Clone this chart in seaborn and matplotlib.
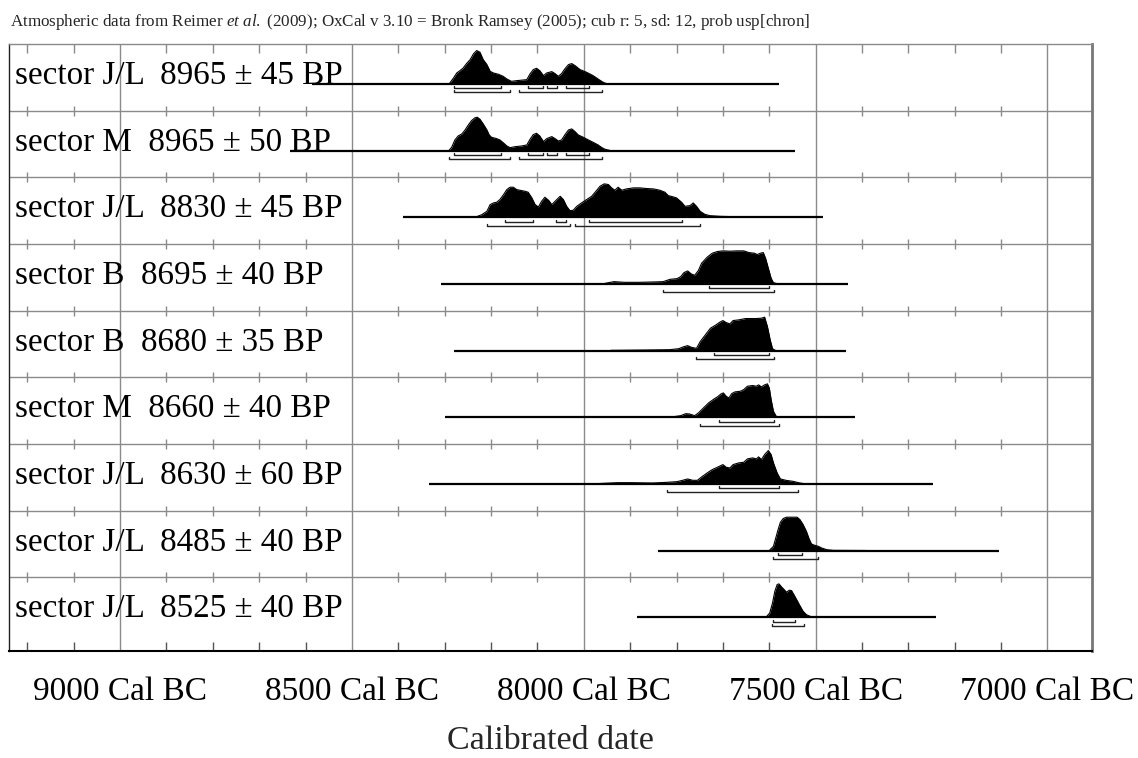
import numpy as np
import matplotlib
matplotlib.use("Agg")
import matplotlib.pyplot as plt
import seaborn as sns

# ---------------- data ----------------
labels = [
    "sector J/L  8965 ± 45 BP",
    "sector M  8965 ± 50 BP",
    "sector J/L  8830 ± 45 BP",
    "sector B  8695 ± 40 BP",
    "sector B  8680 ± 35 BP",
    "sector M  8660 ± 40 BP",
    "sector J/L  8630 ± 60 BP",
    "sector J/L  8485 ± 40 BP",
    "sector J/L  8525 ± 40 BP",
]
line_start = [8587, 8633, 8389, 8309, 8280, 8299, 8334, 7840, 7885]
line_end = [7579, 7545, 7485, 7430, 7435, 7415, 7246, 7105, 7241]

row1_year = [8289, 8281, 8274, 8267, 8260, 8253, 8245, 8238, 8231, 8224, 8217, 8209, 8202, 8195, 8184,
             8174, 8166, 8156, 8145, 8123, 8116, 8109, 8102, 8095, 8087, 8080, 8069, 8062, 8055, 8048,
             8041, 8033, 8026, 8019, 8008, 7994, 7980, 7965, 7958, 7951]
row1_prob = [0.03, 0.18, 0.33, 0.40, 0.48, 0.61, 0.73, 0.90, 1.00, 0.95, 0.73, 0.58, 0.38, 0.33, 0.29,
             0.23, 0.15, 0.08, 0.10, 0.13, 0.30, 0.43, 0.47, 0.40, 0.25, 0.33, 0.37, 0.31, 0.23, 0.31,
             0.45, 0.58, 0.61, 0.55, 0.43, 0.35, 0.25, 0.11, 0.05, 0.01]

row2_year = [8290, 8285, 8278, 8271, 8263, 8256, 8249, 8242, 8235, 8230, 8224, 8217, 8209, 8204, 8199,
             8188, 8181, 8174, 8166, 8159, 8148, 8134, 8123, 8116, 8109, 8102, 8095, 8087, 8080, 8069,
             8062, 8055, 8048, 8041, 8033, 8026, 8019, 8012, 8001, 7990, 7980, 7969, 7962, 7954, 7944]
row2_prob = [0.02, 0.10, 0.32, 0.44, 0.50, 0.62, 0.77, 0.90, 0.98, 1.00, 0.94, 0.80, 0.62, 0.47, 0.40,
             0.36, 0.32, 0.24, 0.14, 0.09, 0.12, 0.14, 0.17, 0.34, 0.48, 0.52, 0.44, 0.27, 0.36, 0.42,
             0.36, 0.29, 0.32, 0.47, 0.62, 0.65, 0.57, 0.47, 0.40, 0.32, 0.25, 0.17, 0.10, 0.04, 0.01]

row3_year = [8231, 8220, 8209, 8202, 8195, 8188, 8181, 8173, 8166, 8159, 8152, 8145, 8138, 8127, 8120,
             8112, 8105, 8098, 8091, 8084, 8076, 8069, 8062, 8051, 8044, 8037, 8030, 8023, 8015, 8005,
             7994, 7983, 7972, 7965, 7956, 7947, 7940, 7933, 7926, 7918, 7908, 7893, 7879, 7864, 7850,
             7836, 7825, 7818, 7807, 7800, 7789, 7782, 7771, 7764, 7757, 7749, 7739, 7728, 7706, 7678,
             7642]
row3_prob = [0.02, 0.08, 0.18, 0.38, 0.43, 0.45, 0.53, 0.68, 0.83, 0.90, 0.90, 0.83, 0.81, 0.78, 0.75,
             0.58, 0.38, 0.31, 0.48, 0.60, 0.51, 0.38, 0.48, 0.63, 0.53, 0.33, 0.20, 0.21, 0.33, 0.43,
             0.53, 0.63, 0.81, 0.93, 1.00, 0.98, 0.88, 0.81, 0.90, 0.81, 0.85, 0.88, 0.88, 0.86, 0.85,
             0.81, 0.75, 0.65, 0.61, 0.58, 0.45, 0.33, 0.35, 0.43, 0.33, 0.18, 0.09, 0.05, 0.03, 0.02,
             0.01]

row4_year = [7954, 7935, 7912, 7882, 7852, 7829, 7814, 7799, 7791, 7784, 7776, 7768, 7761, 7753, 7746,
             7734, 7723, 7712, 7700, 7685, 7670, 7655, 7644, 7632, 7626, 7619, 7613, 7608, 7602, 7596,
             7591, 7583]
row4_prob = [0.02, 0.07, 0.05, 0.05, 0.06, 0.07, 0.14, 0.16, 0.22, 0.34, 0.39, 0.30, 0.26, 0.40, 0.62,
             0.80, 0.92, 0.97, 0.99, 0.98, 0.99, 0.99, 0.94, 0.92, 0.88, 0.92, 0.94, 0.77, 0.47, 0.17,
             0.04, 0.01]

row5_year = [7942, 7867, 7814, 7795, 7784, 7776, 7768, 7757, 7749, 7738, 7727, 7715, 7708, 7700, 7693,
             7685, 7678, 7666, 7651, 7640, 7628, 7617, 7610, 7604, 7598, 7593, 7587]
row5_prob = [0.01, 0.02, 0.03, 0.06, 0.12, 0.15, 0.10, 0.07, 0.27, 0.47, 0.67, 0.77, 0.84, 0.90, 0.84,
             0.80, 0.90, 0.92, 0.96, 0.96, 0.96, 0.97, 1.00, 0.72, 0.32, 0.06, 0.01]

row6_year = [7867, 7806, 7791, 7780, 7772, 7761, 7753, 7742, 7731, 7719, 7712, 7704, 7699, 7693, 7687,
             7681, 7674, 7662, 7655, 7647, 7636, 7628, 7623, 7617, 7610, 7604, 7600, 7596, 7591, 7585,
             7579]
row6_prob = [0.01, 0.02, 0.05, 0.11, 0.10, 0.05, 0.13, 0.28, 0.43, 0.55, 0.61, 0.70, 0.73, 0.63, 0.58,
             0.71, 0.76, 0.78, 0.83, 0.93, 0.95, 0.93, 0.97, 0.91, 0.97, 1.00, 0.88, 0.53, 0.18, 0.03,
             0.00]

row7_year = [7973, 7927, 7897, 7852, 7821, 7799, 7787, 7776, 7765, 7755, 7746, 7734, 7723, 7712, 7700,
             7693, 7685, 7678, 7666, 7655, 7647, 7636, 7628, 7623, 7617, 7610, 7602, 7596, 7591, 7583,
             7576, 7564, 7549, 7534, 7519]
row7_prob = [0.01, 0.04, 0.04, 0.03, 0.05, 0.07, 0.11, 0.15, 0.11, 0.11, 0.21, 0.33, 0.43, 0.50, 0.58,
             0.50, 0.48, 0.58, 0.63, 0.65, 0.75, 0.78, 0.75, 0.81, 0.73, 0.88, 1.00, 0.88, 0.63, 0.33,
             0.15, 0.11, 0.08, 0.03, 0.00]

row8_year = [7599, 7591, 7586, 7581, 7576, 7570, 7563, 7548, 7540, 7534, 7527, 7520, 7514, 7509, 7502,
             7494, 7487, 7476, 7462, 7390]
row8_prob = [0.02, 0.13, 0.38, 0.63, 0.85, 0.96, 1.00, 1.00, 1.00, 0.93, 0.78, 0.58, 0.35, 0.20, 0.16,
             0.13, 0.08, 0.03, 0.01, 0.005]

row9_year = [7606, 7599, 7593, 7588, 7583, 7579, 7573, 7568, 7563, 7557, 7552, 7547, 7541, 7534, 7527,
             7520, 7512, 7505]
row9_prob = [0.02, 0.13, 0.43, 0.78, 0.98, 1.00, 0.90, 0.83, 0.75, 0.81, 0.80, 0.68, 0.53, 0.35, 0.18,
             0.08, 0.03, 0.01]

range68 = [
    [(8279, 8179), (8120, 8089), (8080, 8058), (8039, 7989)],
    [(8279, 8179), (8120, 8089), (8080, 8058), (8039, 7989)],
    [(8169, 8109), (8059, 8039), (7989, 7789)],
    [(7729, 7600)],
    [(7720, 7600)],
    [(7709, 7589)],
    [(7709, 7579)],
    [(7581, 7529)],
    [(7591, 7544)],
]
range95 = [
    [(8280, 8159), (8140, 7960)],
    [(8290, 8159), (8140, 7960)],
    [(8209, 8029), (8020, 7749)],
    [(7830, 7589)],
    [(7759, 7589)],
    [(7749, 7579)],
    [(7820, 7539)],
    [(7591, 7494)],
    [(7595, 7525)],
]

tick_years = [9000, 8500, 8000, 7500, 7000]
tick_labels = ["9000 Cal BC", "8500 Cal BC", "8000 Cal BC", "7500 Cal BC", "7000 Cal BC"]
title = ("Atmospheric data from Reimer $\\mathit{et\\ al.}$ (2009); OxCal v 3.10 = Bronk Ramsey (2005); "
         "cub r: 5, sd: 12, prob usp[chron]")
xlabel = "Calibrated date"

years_list = [row1_year, row2_year, row3_year, row4_year, row5_year, row6_year, row7_year, row8_year, row9_year]
probs_list = [row1_prob, row2_prob, row3_prob, row4_prob, row5_prob, row6_prob, row7_prob, row8_prob, row9_prob]

# ---------------- style ----------------
sns.set_theme(style="white")
plt.rcParams["font.family"] = ["Liberation Serif", "DejaVu Serif"]
plt.rcParams["mathtext.fontset"] = "custom"
plt.rcParams["mathtext.rm"] = "Liberation Serif"
plt.rcParams["mathtext.it"] = "Liberation Serif:italic"

W, H = 1138, 758
fig = plt.figure(figsize=(W / 100, H / 100), dpi=100)
ax = fig.add_axes([9.3 / W, 1 - 651 / H, (1092 - 9.3) / W, (651 - 44) / H])

XL, XR = 9239, 6904
NROW = 9
YBOT = 9.105
ax.set_xlim(XL, XR)
ax.set_ylim(YBOT, 0)

grid_c = "#8a8a8a"
# row separators
for k in range(1, NROW):
    ax.axhline(k, color=grid_c, lw=1.0, zorder=1)
# major verticals
for t in tick_years:
    ax.axvline(t, color=grid_c, lw=1.0, zorder=1)
# minor ticks
minor = [y for y in np.arange(9200, 6900, -100) if y % 500 != 0]
ax.vlines(minor, 0, 0.135, color=grid_c, lw=1.0, zorder=1)
ax.vlines(minor, YBOT - 0.135, YBOT, color="#555555", lw=1.0, zorder=1)
for k in range(1, NROW):
    ax.vlines(minor, k - 0.075, k + 0.075, color=grid_c, lw=1.0, zorder=1)

HSCALE = 0.502
for i in range(NROW):
    base = i + 0.6
    yr = np.array(years_list[i], dtype=float)
    pr = np.array(probs_list[i], dtype=float)
    ax.hlines(base, line_start[i], line_end[i], color="black", lw=1.6, zorder=3)
    ax.fill_between(yr, base, base - HSCALE * pr, color="black", lw=0, zorder=3)
    sns.lineplot(x=yr, y=base - HSCALE * pr, color="black", lw=0.8, ax=ax,
                 estimator=None, sort=False, zorder=3)
    for (a, b) in range68[i]:
        yy = base + 0.065
        ax.plot([a, a, b, b], [yy - 0.03, yy, yy, yy - 0.03], color="#222222", lw=1.0, zorder=3)
    for (a, b) in range95[i]:
        yy = base + 0.125
        ax.plot([a, a, b, b], [yy - 0.03, yy, yy, yy - 0.03], color="#222222", lw=1.0, zorder=3)
    ax.text(9226, base, labels[i], fontsize=23.9, va="baseline", ha="left", color="black", zorder=4)

# spines
for s in ["top", "right", "left", "bottom"]:
    ax.spines[s].set_visible(True)
ax.spines["top"].set_color(grid_c)
ax.spines["top"].set_linewidth(1.0)
ax.spines["right"].set_color("#777777")
ax.spines["right"].set_linewidth(2.0)
ax.spines["left"].set_color("#222222")
ax.spines["left"].set_linewidth(1.0)
ax.spines["bottom"].set_color("black")
ax.spines["bottom"].set_linewidth(1.5)

ax.set_yticks([])
ax.set_xticks(tick_years)
ax.set_xticklabels(tick_labels, fontsize=24)
ax.tick_params(axis="x", length=0, pad=18, colors="black")
ax.set_xlabel(xlabel, fontsize=24.5, labelpad=14)

fig.text(10 / W, 1 - 22 / H, title, fontsize=12.25, ha="left", va="center")

fig.savefig("out.png", dpi=100)
